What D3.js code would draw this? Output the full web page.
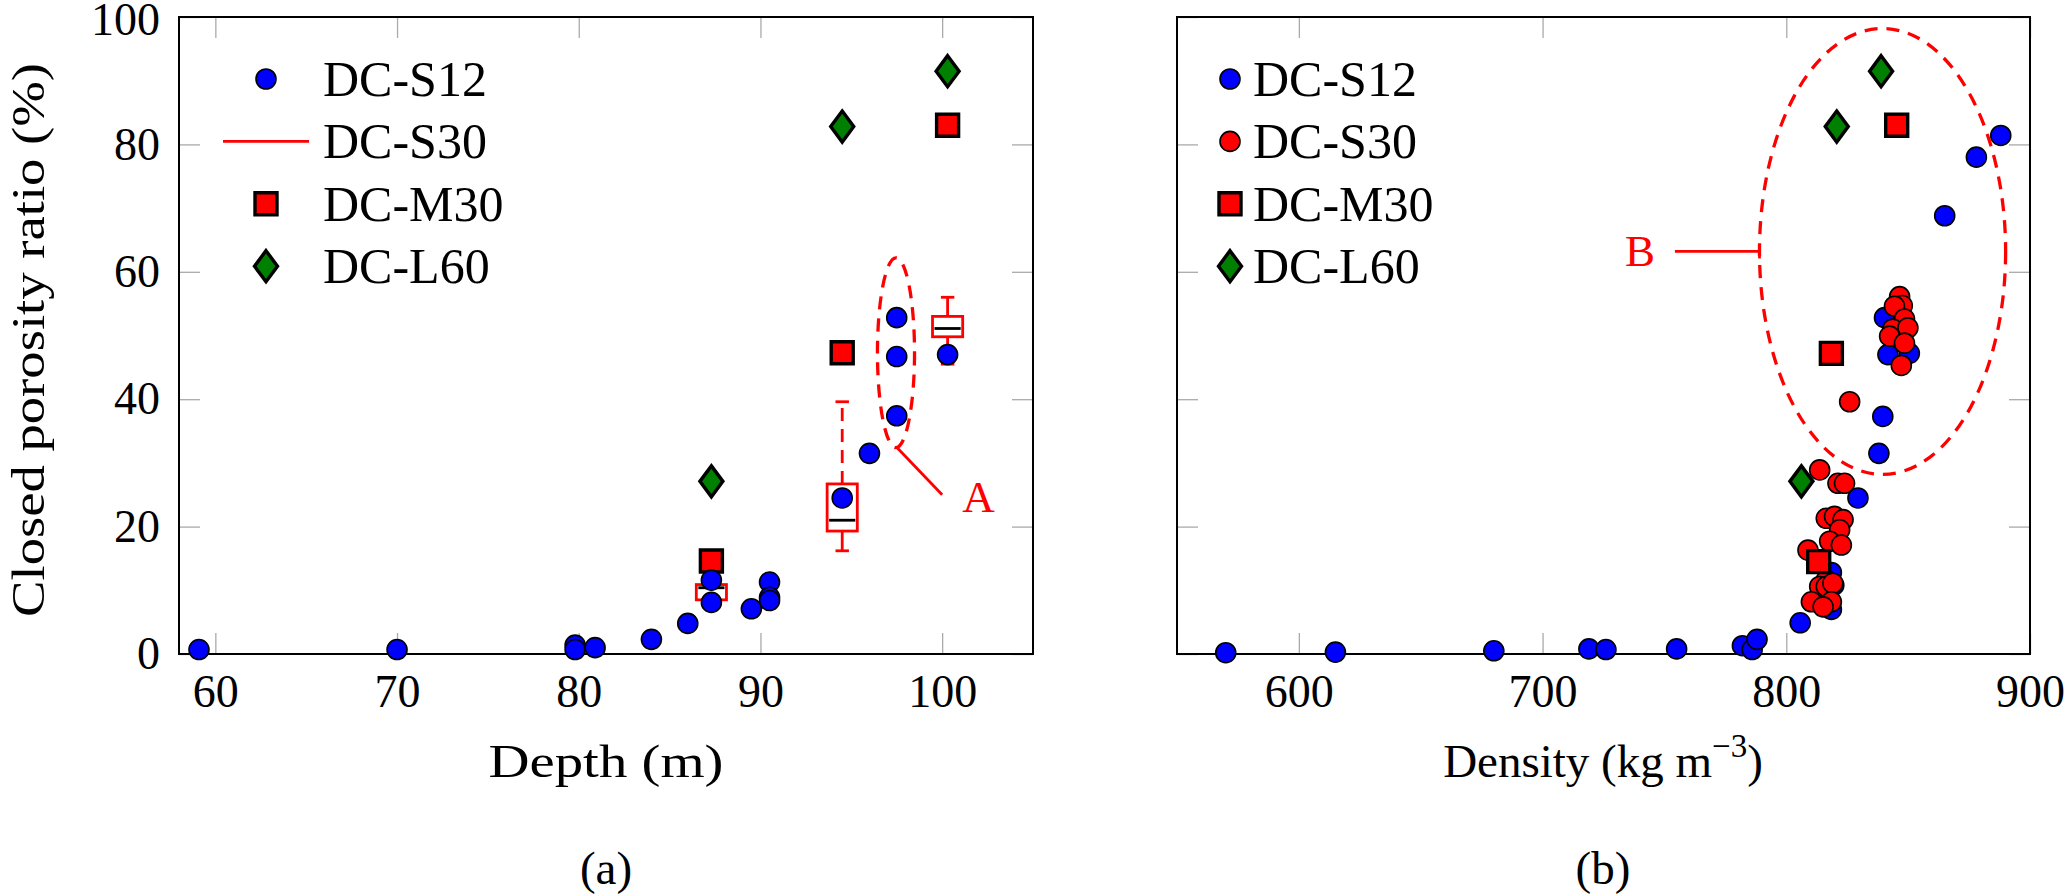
<!DOCTYPE html>
<html>
<head>
<meta charset="utf-8">
<script src="https://cdn.jsdelivr.net/npm/d3@7"></script>
<style>
  body { margin: 0; background: white; }
</style>
</head>
<body>
<svg id="fig" width="2066" height="896"></svg>
<script>
// ---- data ----
var legendNames = ["DC-S12", "DC-S30", "DC-M30", "DC-L60"]

// (a) closed porosity vs depth
var depthS12 = [59.1, 70.0, 79.8, 79.8, 80.9, 84.0, 86.0, 87.3, 87.3, 89.5, 90.5, 90.5, 90.5, 94.5, 96.0, 97.5, 97.5, 97.5, 100.3]
var porDepthS12 = [0.7, 0.7, 1.4, 0.7, 1.0, 2.3, 4.8, 8.1, 11.6, 7.1, 11.3, 8.9, 8.4, 24.5, 31.5, 37.4, 46.7, 52.8, 47.0]
var depthM30 = [87.3, 94.5, 100.3]
var porDepthM30 = [14.6, 47.3, 83.0]
var depthL60 = [87.3, 94.5, 100.3]
var porDepthL60 = [27.1, 82.8, 91.5]
// DC-S30 box plots
var boxDepth = [87.3, 94.5, 100.3]
var boxLow = [8.0, 16.2, 45.5]
var boxQ1 = [8.5, 19.3, 49.8]
var boxMed = [10.4, 21.0, 51.1]
var boxQ3 = [10.9, 26.7, 53.0]
var boxHigh = [11.4, 39.6, 56.0]

// (b) closed porosity vs density
var densS12 = [570, 615, 680, 719, 726, 755, 782, 786, 788, 805.7, 818.5, 819.5, 818.5, 829.4, 838, 839.6, 841.7, 840.3, 850.5, 865, 878, 888]
var porDensS12 = [0.2, 0.3, 0.5, 0.8, 0.7, 0.8, 1.3, 0.7, 2.3, 4.9, 12.8, 10.8, 7.0, 24.5, 31.5, 37.3, 47.0, 52.8, 47.2, 68.8, 78.0, 81.4]
var densS30 = [846.5, 847.6, 844.4, 848.5, 843.7, 849.9, 842.4, 848.5, 847.2, 826, 813.7, 821.2, 823.9, 816.4, 819.8, 823.3, 821.9, 817.8, 822.6, 808.9, 816.4, 813.7, 816.4, 819.1, 810.3, 818.5, 815.1]
var porDensS30 = [56.1, 54.7, 54.6, 52.6, 51.0, 51.2, 49.9, 48.8, 45.3, 39.6, 28.9, 26.8, 26.8, 21.3, 21.6, 21.1, 19.5, 17.7, 17.1, 16.3, 11.6, 10.6, 10.6, 11.1, 8.2, 8.2, 7.4]
var densM30 = [813.3, 818.5, 845.3]
var porDensM30 = [14.5, 47.2, 83.0]
var densL60 = [806.2, 820.7, 838.9]
var porDensL60 = [27.1, 82.8, 91.5]

// annotation ellipses, centres and radii in data units
var ellipseA = {cx: 97.46, cy: 47.3, rx: 1.02, ry: 14.9}
var ellipseB = {cx: 839.5, cy: 63.2, rx: 50.5, ry: 35}

var depthTicks = [60, 70, 80, 90, 100]
var densTicks = [600, 700, 800, 900]
var porTicks = [0, 20, 40, 60, 80, 100]

// pick the first serif font that is really installed
function pickFont(names) {
  var c = document.createElement('canvas').getContext('2d')
  var s = 'DC-S12 Closed porosity ratio 0123456789'
  for (var i = 0; i < names.length; i++) {
    c.font = '40px "' + names[i] + '", monospace'
    var a = c.measureText(s).width
    c.font = '40px "' + names[i] + '", sans-serif'
    var b = c.measureText(s).width
    if (Math.abs(a - b) < 0.01) return '"' + names[i] + '"'
  }
  return 'serif'
}
var FONT = pickFont(['Liberation Serif', 'DejaVu Serif', 'Tinos', 'Times New Roman', 'Noto Serif', 'FreeSerif', 'Nimbus Roman'])

// ---- scales ----
var svg = d3.select('#fig').style('font-family', FONT)
var yP = d3.scaleLinear().domain([0, 100]).range([654, 17])
var xA = d3.scaleLinear().domain([58, 105]).range([179, 1033])
var xB = d3.scaleLinear().domain([550, 900]).range([1177, 2030])

function styleAxis(g) {
  g.attr('font-family', FONT).attr('font-size', 46)
  g.select('.domain').remove()
  g.selectAll('.tick line').attr('stroke', '#aaaaaa').attr('stroke-width', 1.3)
  g.selectAll('.tick text').attr('fill', 'black')
}

function drawFrame(x, y, xticks, yLabels) {
  var x0 = x.range()[0], x1 = x.range()[1]
  var y0 = y.range()[0], y1 = y.range()[1]
  svg.append('g').attr('transform', 'translate(0,' + y0 + ')')
    .call(d3.axisBottom(x).tickValues(xticks).tickSize(-21).tickPadding(20))
    .call(styleAxis)
  svg.append('g').attr('transform', 'translate(0,' + y1 + ')')
    .call(d3.axisTop(x).tickValues(xticks).tickSize(-21).tickFormat(''))
    .call(styleAxis)
  svg.append('g').attr('transform', 'translate(' + x0 + ',0)')
    .call(d3.axisLeft(y).tickValues(porTicks).tickSize(-21).tickPadding(19)
      .tickFormat(yLabels ? d3.format('d') : ''))
    .call(styleAxis)
    // keep the top label inside the page
    .selectAll('.tick text').filter(d => d == 100).attr('y', 3)
  svg.append('g').attr('transform', 'translate(' + x1 + ',0)')
    .call(d3.axisRight(y).tickValues(porTicks).tickSize(-21).tickFormat(''))
    .call(styleAxis)
  svg.append('rect')
    .attr('x', x0).attr('y', y1)
    .attr('width', x1 - x0).attr('height', y0 - y1)
    .attr('fill', 'none').attr('stroke', 'black').attr('stroke-width', 2)
}

function circles(g, xs, ys, x, y, fill) {
  g.selectAll(null).data(d3.zip(xs, ys)).join('circle')
    .attr('cx', d => x(d[0])).attr('cy', d => y(d[1]))
    .attr('r', 10)
    .attr('fill', fill).attr('stroke', 'black').attr('stroke-width', 1.6)
}

function squarePath(cx, cy) {
  return 'M' + (cx - 11) + ',' + (cy - 11) + 'h22v22h-22Z'
}
function diamondPath(cx, cy) {
  return 'M' + cx + ',' + (cy - 15.5) + 'L' + (cx + 11.5) + ',' + cy +
    'L' + cx + ',' + (cy + 15.5) + 'L' + (cx - 11.5) + ',' + cy + 'Z'
}

function squares(g, xs, ys, x, y) {
  g.selectAll(null).data(d3.zip(xs, ys)).join('path')
    .attr('d', d => squarePath(x(d[0]), y(d[1])))
    .attr('fill', '#ff0000').attr('stroke', 'black').attr('stroke-width', 3.4)
}
function diamonds(g, xs, ys, x, y) {
  g.selectAll(null).data(d3.zip(xs, ys)).join('path')
    .attr('d', d => diamondPath(x(d[0]), y(d[1])))
    .attr('fill', '#008000').attr('stroke', 'black').attr('stroke-width', 3.4)
}

// ---- panel (a) ----
drawFrame(xA, yP, depthTicks, true)
var gA = svg.append('g')

// box plots of DC-S30
var halfBox = 0.83, halfCap = 0.37
boxDepth.forEach(function(d, i) {
  var b = gA.append('g').attr('stroke', '#ff0000').attr('stroke-width', 2.8).attr('fill', 'none')
  b.append('line')
    .attr('x1', xA(d)).attr('x2', xA(d))
    .attr('y1', yP(boxQ1[i])).attr('y2', yP(boxLow[i]))
  b.append('line')
    .attr('x1', xA(d)).attr('x2', xA(d))
    .attr('y1', yP(boxQ3[i])).attr('y2', yP(boxHigh[i]))
    .attr('stroke-dasharray', i == 1 ? '13,8' : null)
  b.append('line')
    .attr('x1', xA(d - halfCap)).attr('x2', xA(d + halfCap))
    .attr('y1', yP(boxLow[i])).attr('y2', yP(boxLow[i]))
  b.append('line')
    .attr('x1', xA(d - halfCap)).attr('x2', xA(d + halfCap))
    .attr('y1', yP(boxHigh[i])).attr('y2', yP(boxHigh[i]))
  b.append('rect')
    .attr('x', xA(d - halfBox)).attr('width', xA(d + halfBox) - xA(d - halfBox))
    .attr('y', yP(boxQ3[i])).attr('height', yP(boxQ1[i]) - yP(boxQ3[i]))
  b.append('line')
    .attr('stroke', 'black')
    .attr('x1', xA(d - halfBox) + 2).attr('x2', xA(d + halfBox) - 2)
    .attr('y1', yP(boxMed[i])).attr('y2', yP(boxMed[i]))
})

squares(gA, depthM30, porDepthM30, xA, yP)
diamonds(gA, depthL60, porDepthL60, xA, yP)
circles(gA, depthS12, porDepthS12, xA, yP, '#0000ff')

// annotation A
gA.append('ellipse')
  .attr('cx', xA(ellipseA.cx)).attr('cy', yP(ellipseA.cy))
  .attr('rx', xA(ellipseA.cx + ellipseA.rx) - xA(ellipseA.cx))
  .attr('ry', yP(ellipseA.cy - ellipseA.ry) - yP(ellipseA.cy))
  .attr('fill', 'none').attr('stroke', '#ff0000').attr('stroke-width', 3.3)
  .attr('stroke-dasharray', '13,9')
gA.append('line')
  .attr('x1', xA(97.55)).attr('y1', yP(32.3))
  .attr('x2', xA(100.0)).attr('y2', yP(25.0))
  .attr('stroke', '#ff0000').attr('stroke-width', 2.8)
gA.append('text')
  .attr('x', xA(102.0)).attr('y', yP(24.7))
  .attr('text-anchor', 'middle').attr('dominant-baseline', 'central')
  .attr('font-size', 45).attr('fill', '#ff0000')
  .text('A')

// legend (a)
var legA = svg.append('g')
legendNames.forEach(function(name, i) {
  var ly = 79 + i * 62.4
  if (i == 0) legA.append('circle').attr('cx', 266).attr('cy', ly).attr('r', 10)
    .attr('fill', '#0000ff').attr('stroke', 'black').attr('stroke-width', 1.6)
  if (i == 1) legA.append('line').attr('x1', 223).attr('x2', 309).attr('y1', ly).attr('y2', ly)
    .attr('stroke', '#ff0000').attr('stroke-width', 2.8)
  if (i == 2) legA.append('path').attr('d', squarePath(266, ly))
    .attr('fill', '#ff0000').attr('stroke', 'black').attr('stroke-width', 3.4)
  if (i == 3) legA.append('path').attr('d', diamondPath(266, ly))
    .attr('fill', '#008000').attr('stroke', 'black').attr('stroke-width', 3.4)
  legA.append('text').attr('x', 323).attr('y', ly)
    .attr('dominant-baseline', 'central').attr('font-size', 50).text(name)
})

// ---- panel (b) ----
drawFrame(xB, yP, densTicks, false)
var gB = svg.append('g')
circles(gB, densS12, porDensS12, xB, yP, '#0000ff')
circles(gB, densS30, porDensS30, xB, yP, '#ff0000')
squares(gB, densM30, porDensM30, xB, yP)
diamonds(gB, densL60, porDensL60, xB, yP)

// annotation B
gB.append('ellipse')
  .attr('cx', xB(ellipseB.cx)).attr('cy', yP(ellipseB.cy))
  .attr('rx', xB(ellipseB.cx + ellipseB.rx) - xB(ellipseB.cx))
  .attr('ry', yP(ellipseB.cy - ellipseB.ry) - yP(ellipseB.cy))
  .attr('fill', 'none').attr('stroke', '#ff0000').attr('stroke-width', 3.3)
  .attr('stroke-dasharray', '13,9')
var bx = xB(ellipseB.cx - ellipseB.rx), by = yP(ellipseB.cy)
gB.append('line')
  .attr('x1', xB(754.3)).attr('x2', bx).attr('y1', by).attr('y2', by)
  .attr('stroke', '#ff0000').attr('stroke-width', 2.8)
gB.append('line')
  .attr('x1', bx).attr('x2', bx).attr('y1', by - 7).attr('y2', by + 7)
  .attr('stroke', '#ff0000').attr('stroke-width', 2.8)
gB.append('text')
  .attr('x', xB(740)).attr('y', by)
  .attr('text-anchor', 'middle').attr('dominant-baseline', 'central')
  .attr('font-size', 45).attr('fill', '#ff0000')
  .text('B')

// legend (b)
var legB = svg.append('g')
var legFill = ['#0000ff', '#ff0000']
legendNames.forEach(function(name, i) {
  var ly = 79 + i * 62.4
  if (i < 2) legB.append('circle').attr('cx', 1230).attr('cy', ly).attr('r', 10)
    .attr('fill', legFill[i]).attr('stroke', 'black').attr('stroke-width', 1.6)
  if (i == 2) legB.append('path').attr('d', squarePath(1230, ly))
    .attr('fill', '#ff0000').attr('stroke', 'black').attr('stroke-width', 3.4)
  if (i == 3) legB.append('path').attr('d', diamondPath(1230, ly))
    .attr('fill', '#008000').attr('stroke', 'black').attr('stroke-width', 3.4)
  legB.append('text').attr('x', 1253).attr('y', ly)
    .attr('dominant-baseline', 'central').attr('font-size', 50).text(name)
})

// ---- axis titles and captions ----
svg.append('text')
  .attr('transform', 'translate(44,340) rotate(-90)')
  .attr('text-anchor', 'middle').attr('font-size', 46)
  .attr('textLength', 554).attr('lengthAdjust', 'spacingAndGlyphs')
  .text('Closed porosity ratio (%)')

svg.append('text')
  .attr('x', 606).attr('y', 777)
  .attr('text-anchor', 'middle').attr('font-size', 47)
  .attr('textLength', 235).attr('lengthAdjust', 'spacingAndGlyphs')
  .text('Depth (m)')

var dt = svg.append('text')
  .attr('x', 1603).attr('y', 777)
  .attr('text-anchor', 'middle').attr('font-size', 47)
dt.append('tspan').text('Density (kg m')
dt.append('tspan').attr('dy', -20).attr('font-size', 33).text('\u22123')
dt.append('tspan').attr('dy', 20).text(')')

svg.append('text').attr('x', 606).attr('y', 884)
  .attr('text-anchor', 'middle').attr('font-size', 47).text('(a)')
svg.append('text').attr('x', 1603).attr('y', 884)
  .attr('text-anchor', 'middle').attr('font-size', 47).text('(b)')
</script>
</body>
</html>
